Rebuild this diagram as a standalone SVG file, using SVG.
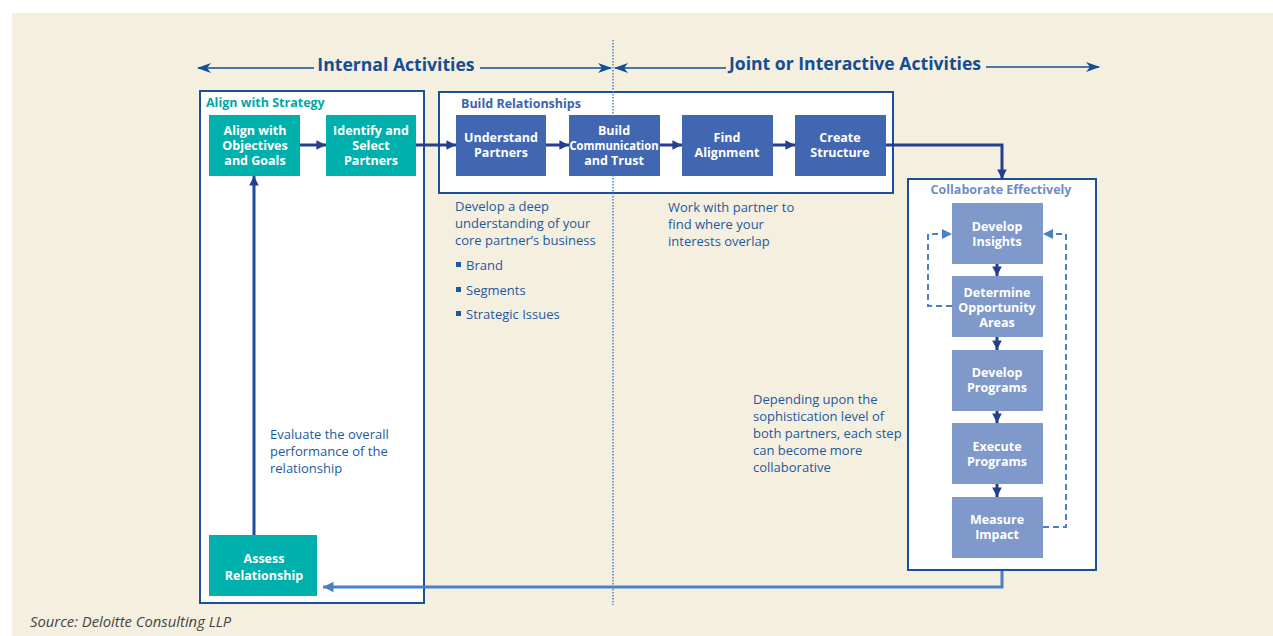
<svg xmlns="http://www.w3.org/2000/svg" width="1273" height="636" viewBox="0 0 1273 636">
<defs>
<style>
.t{font-family:"Open Sans","Liberation Sans",sans-serif;}
.bx{font-family:"Open Sans","Liberation Sans",sans-serif;font-weight:bold;font-size:12.5px;fill:#fff;text-anchor:middle;}
.frame{fill:#fff;stroke:#1b4f97;stroke-width:2;}
.teal{fill:#00b0ad;}
.blue{fill:#4267b2;}
.lite{fill:#7f99cb;}
.note{font-family:"Open Sans","Liberation Sans",sans-serif;font-size:13px;fill:#1b5aa0;}
.hd{font-family:"Open Sans","Liberation Sans",sans-serif;font-weight:bold;font-size:17.6px;fill:#134e93;}
.dark{stroke:#233f8e;stroke-width:3;fill:none;}
.dash{stroke:#4a80c6;stroke-width:2;fill:none;stroke-dasharray:6 4;}
</style>
<marker id="ah" viewBox="0 0 10 10" refX="10" refY="5" markerWidth="3.2" markerHeight="3.2" orient="auto"><path d="M0,0L10,5L0,10z" fill="#233f8e"/></marker>
<marker id="ahl" viewBox="0 0 10 10" refX="10" refY="5" markerWidth="3.5" markerHeight="3.5" orient="auto"><path d="M0,0L10,5L0,10z" fill="#4a80c6"/></marker>
<marker id="ahd" viewBox="0 0 10 10" refX="10" refY="5" markerWidth="5" markerHeight="5" orient="auto"><path d="M0,0L10,5L0,10z" fill="#4a80c6"/></marker>
<marker id="ahh" viewBox="0 0 14 10" refX="13" refY="5" markerWidth="14" markerHeight="10" markerUnits="userSpaceOnUse" orient="auto"><path d="M0,0L14,5L0,10L4,5z" fill="#134e93"/></marker>
</defs>
<rect x="12" y="13" width="1261" height="623" fill="#f5efdf"/>

<g id="align-strategy">
<rect class="frame" x="200" y="91" width="224" height="512"/>
<text x="206" y="107" class="t" font-size="12.5" font-weight="bold" fill="#00a7a8">Align with Strategy</text>
</g>
<g id="build-relationships">
<rect class="frame" x="439" y="92" width="454" height="101"/>
<text x="461" y="108" class="t" font-size="12.5" font-weight="bold" fill="#3b63ad">Build Relationships</text>
</g>
<g id="collaborate">
<rect class="frame" x="908" y="179" width="188" height="391"/>
<text x="1001" y="194" class="t" font-size="12.5" font-weight="bold" fill="#6f8cc4" text-anchor="middle">Collaborate Effectively</text>
</g>

<line x1="613" y1="40" x2="613" y2="605" stroke="#4a85c8" stroke-width="1.5" stroke-dasharray="1.5 1.5"/>

<g id="headers">
<line x1="314" y1="68" x2="198" y2="68" stroke="#134e93" stroke-width="1.5" marker-end="url(#ahh)"/>
<text x="396" y="71" class="hd" text-anchor="middle">Internal Activities</text>
<line x1="480" y1="68" x2="611" y2="68" stroke="#134e93" stroke-width="1.5" marker-end="url(#ahh)"/>
<line x1="726" y1="68" x2="615" y2="68" stroke="#134e93" stroke-width="1.5" marker-end="url(#ahh)"/>
<text x="855" y="70" class="hd" text-anchor="middle">Joint or Interactive Activities</text>
<line x1="986" y1="67" x2="1099" y2="67" stroke="#134e93" stroke-width="1.5" marker-end="url(#ahh)"/>
</g>

<g id="connectors">
<line class="dark" x1="300" y1="145" x2="326" y2="145" marker-end="url(#ah)"/>
<line class="dark" x1="416" y1="145" x2="456" y2="145" marker-end="url(#ah)"/>
<line class="dark" x1="546" y1="145" x2="569" y2="145" marker-end="url(#ah)"/>
<line class="dark" x1="660" y1="145" x2="682" y2="145" marker-end="url(#ah)"/>
<line class="dark" x1="773" y1="145" x2="795" y2="145" marker-end="url(#ah)"/>
<polyline class="dark" stroke="#1b4f97" points="886,145 1002,145 1002,179" marker-end="url(#ah)"/>
<line x1="254" y1="535" x2="254" y2="176" stroke="#1b4f97" stroke-width="3" marker-end="url(#ah)"/>
<line class="dark" x1="997" y1="264" x2="997" y2="276" stroke-width="2.5" marker-end="url(#ah)"/>
<line class="dark" x1="997" y1="337" x2="997" y2="350" stroke-width="2.5" marker-end="url(#ah)"/>
<line class="dark" x1="997" y1="411" x2="997" y2="423" stroke-width="2.5" marker-end="url(#ah)"/>
<line class="dark" x1="997" y1="484" x2="997" y2="497" stroke-width="2.5" marker-end="url(#ah)"/>
<polyline points="1002,571 1002,587 323,587" fill="none" stroke="#4a80c6" stroke-width="3" marker-end="url(#ahl)"/>
<polyline class="dash" points="952,306 928,306 928,234 952,234" marker-end="url(#ahd)"/>
<polyline class="dash" points="1043,527 1066,527 1066,234 1043,234" marker-end="url(#ahd)"/>
</g>

<g id="n-align"><rect class="teal" x="209" y="115" width="91" height="61"/><text class="bx" x="255" y="135">Align with</text><text class="bx" x="255" y="150">Objectives</text><text class="bx" x="255" y="165">and Goals</text></g>
<g id="n-identify"><rect class="teal" x="326" y="115" width="90" height="61"/><text class="bx" x="371" y="135">Identify and</text><text class="bx" x="371" y="150">Select</text><text class="bx" x="371" y="165">Partners</text></g>
<g id="n-understand"><rect class="blue" x="456" y="115" width="90" height="61"/><text class="bx" x="501" y="142">Understand</text><text class="bx" x="501" y="157">Partners</text></g>
<g id="n-build"><rect class="blue" x="569" y="115" width="91" height="61"/><text class="bx" x="614" y="135">Build</text><text class="bx" x="614" y="150" textLength="89" lengthAdjust="spacingAndGlyphs">Communication</text><text class="bx" x="614" y="165">and Trust</text></g>
<g id="n-find"><rect class="blue" x="682" y="115" width="91" height="61"/><text class="bx" x="727" y="142">Find</text><text class="bx" x="727" y="157">Alignment</text></g>
<g id="n-create"><rect class="blue" x="795" y="115" width="91" height="61"/><text class="bx" x="840" y="142">Create</text><text class="bx" x="840" y="157">Structure</text></g>
<g id="n-insights"><rect class="lite" x="952" y="203" width="91" height="61"/><text class="bx" x="997" y="231">Develop</text><text class="bx" x="997" y="246">Insights</text></g>
<g id="n-determine"><rect class="lite" x="952" y="276" width="91" height="61"/><text class="bx" x="997" y="297">Determine</text><text class="bx" x="997" y="312">Opportunity</text><text class="bx" x="997" y="327">Areas</text></g>
<g id="n-devprog"><rect class="lite" x="952" y="350" width="91" height="61"/><text class="bx" x="997" y="377">Develop</text><text class="bx" x="997" y="392">Programs</text></g>
<g id="n-execute"><rect class="lite" x="952" y="423" width="91" height="61"/><text class="bx" x="997" y="451">Execute</text><text class="bx" x="997" y="466">Programs</text></g>
<g id="n-measure"><rect class="lite" x="952" y="497" width="91" height="61"/><text class="bx" x="997" y="524">Measure</text><text class="bx" x="997" y="539">Impact</text></g>
<g id="n-assess"><rect class="teal" x="209" y="535" width="108" height="61"/><text class="bx" x="264" y="563">Assess</text><text class="bx" x="264" y="580">Relationship</text></g>

<g id="notes">
<text class="note" x="455" y="211">Develop a deep</text>
<text class="note" x="455" y="228">understanding of your</text>
<text class="note" x="455" y="245">core partner’s business</text>
<rect x="456" y="262" width="5" height="5" fill="#1b5aa0"/><text class="note" x="466" y="270">Brand</text>
<rect x="456" y="287" width="5" height="5" fill="#1b5aa0"/><text class="note" x="466" y="295">Segments</text>
<rect x="456" y="311" width="5" height="5" fill="#1b5aa0"/><text class="note" x="466" y="319">Strategic Issues</text>
<text class="note" x="668" y="212">Work with partner to</text>
<text class="note" x="668" y="229">find where your</text>
<text class="note" x="668" y="246">interests overlap</text>
<text class="note" x="270" y="439">Evaluate the overall</text>
<text class="note" x="270" y="456">performance of the</text>
<text class="note" x="270" y="473">relationship</text>
<text class="note" x="753" y="404">Depending upon the</text>
<text class="note" x="753" y="421">sophistication level of</text>
<text class="note" x="753" y="438">both partners, each step</text>
<text class="note" x="753" y="455">can become more</text>
<text class="note" x="753" y="472">collaborative</text>
<text x="30" y="627" class="t" font-size="14.8" font-style="italic" fill="#444">Source: Deloitte Consulting LLP</text>
</g>
</svg>
